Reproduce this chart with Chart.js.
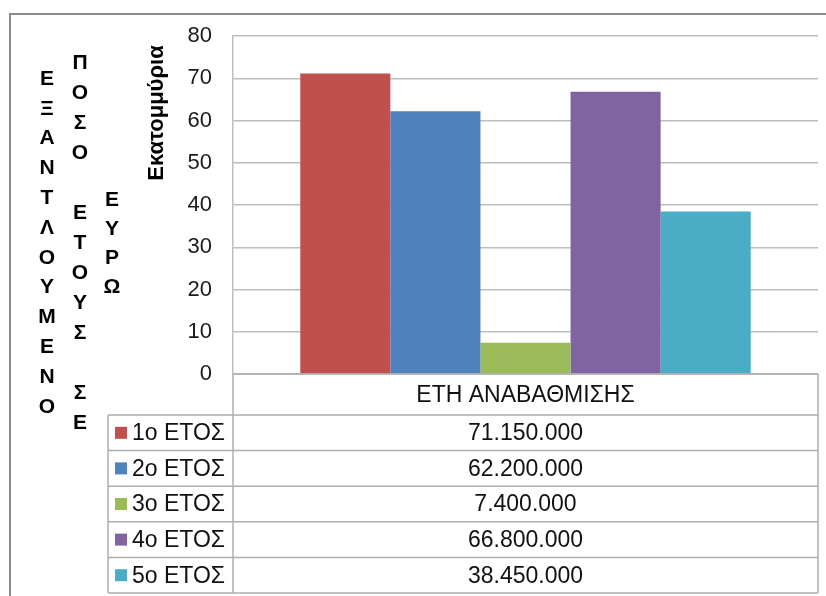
<!DOCTYPE html>
<html>
<head>
<meta charset="utf-8">
<script src="https://cdn.jsdelivr.net/npm/chart.js@4/dist/chart.umd.min.js"></script>
<style>
  body { margin: 0; background: #fff; }
  #wrap { width: 826px; height: 596px; }
</style>
</head>
<body>
<div id="wrap"><canvas id="myChart"></canvas></div>
<script>
const category = "ΕΤΗ ΑΝΑΒΑΘΜΙΣΗΣ";
const seriesNames = ["1o ΕΤΟΣ", "2o ΕΤΟΣ", "3o ΕΤΟΣ", "4o ΕΤΟΣ", "5o ΕΤΟΣ"];
const amounts = [71150000, 62200000, 7400000, 66800000, 38450000];
const colors = ["#C0504D", "#4F81BD", "#9BBB59", "#8064A2", "#4BACC6"];
const yMax = 80;
const yStep = 10;
const unitTitle = "Εκατομμύρια";
const sideTitle = ["ΕΞΑΝΤΛΟΥΜΕΝΟ", "ΠΟΣΟ ΕΤΟΥΣ ΣΕ", "ΕΥΡΩ"];

const FONT = "'Liberation Sans', Arial, sans-serif";
const LINE = "#adadad";

// 71150000 -> "71.150.000"
function formatAmount(v) {
  return String(v).replace(/\B(?=(\d{3})+(?!\d))/g, ".");
}

// frame, stacked side title, unit title and the data table under the plot
const extras = {
  id: "extras",
  afterDraw(chart) {
    const ctx = chart.ctx;
    const area = chart.chartArea;
    ctx.save();

    // outer frame (left + top only)
    ctx.strokeStyle = "#8c8c8c";
    ctx.lineWidth = 2;
    ctx.beginPath();
    ctx.moveTo(10, 596);
    ctx.lineTo(10, 14);
    ctx.lineTo(826, 14);
    ctx.stroke();

    // stacked letters, one column per word group
    ctx.fillStyle = "#000";
    ctx.font = "bold 21px " + FONT;
    ctx.textAlign = "center";
    ctx.textBaseline = "middle";
    const cols = [
      { x: 47, y: 79, step: 29.8 },
      { x: 80, y: 63, step: 30 },
      { x: 112, y: 200, step: 29 }
    ];
    sideTitle.forEach((word, i) => {
      const c = cols[i];
      [...word].forEach((ch, k) => {
        if (ch !== " ") ctx.fillText(ch, c.x, c.y + k * c.step);
      });
    });

    // unit title, rotated
    ctx.save();
    ctx.translate(157, 113);
    ctx.rotate(-Math.PI / 2);
    ctx.font = "bold 22px " + FONT;
    ctx.fillText(unitTitle, 0, 0);
    ctx.restore();

    // data table
    const tableLeft = area.left - 125;
    const headTop = area.bottom;
    const headBottom = area.bottom + 41;
    const rowH = 35.6;
    const tableBottom = headBottom + rowH * seriesNames.length;

    ctx.strokeStyle = LINE;
    ctx.lineWidth = 1.5;
    ctx.beginPath();
    ctx.moveTo(area.left, headTop);
    ctx.lineTo(area.right, headTop);
    for (let i = 0; i <= seriesNames.length; i++) {
      const y = headBottom + i * rowH;
      ctx.moveTo(tableLeft, y);
      ctx.lineTo(area.right, y);
    }
    ctx.moveTo(tableLeft, headBottom);
    ctx.lineTo(tableLeft, tableBottom);
    ctx.moveTo(area.left, headTop);
    ctx.lineTo(area.left, tableBottom);
    ctx.moveTo(area.right, headTop);
    ctx.lineTo(area.right, tableBottom);
    ctx.stroke();

    const midX = (area.left + area.right) / 2;
    ctx.font = "23px " + FONT;
    ctx.fillStyle = "#111";
    ctx.textAlign = "center";
    ctx.fillText(category, midX, (headTop + headBottom) / 2 + 1);

    seriesNames.forEach((name, i) => {
      const cy = headBottom + rowH * (i + 0.5) + 1;
      ctx.fillStyle = colors[i];
      ctx.fillRect(tableLeft + 7, cy - 7, 12, 12);
      ctx.fillStyle = "#111";
      ctx.textAlign = "left";
      ctx.fillText(name, tableLeft + 24, cy);
      ctx.textAlign = "center";
      ctx.fillText(formatAmount(amounts[i]), midX, cy);
    });

    ctx.restore();
  }
};

const data = {
  labels: [category],
  datasets: seriesNames.map((name, i) => ({
    label: name,
    data: [amounts[i] / 1e6],
    backgroundColor: colors[i],
    borderWidth: 0,
    categoryPercentage: 0.77,
    barPercentage: 1
  }))
};

const options = {
  responsive: true,
  maintainAspectRatio: false,
  animation: false,
  layout: { padding: { left: 0, top: 36, right: 8, bottom: 222 } },
  plugins: {
    legend: { display: false },
    tooltip: { enabled: false }
  },
  scales: {
    x: { display: false },
    y: {
      min: 0,
      max: yMax,
      afterFit: (scale) => { scale.width = 233; },
      ticks: {
        stepSize: yStep,
        padding: 21,
        color: "#1a1a1a",
        font: { family: FONT, size: 22 }
      },
      grid: { color: "#bdbdbd", lineWidth: 1.5, drawTicks: false },
      border: { display: true, color: "#bdbdbd", width: 1.5 }
    }
  }
};

new Chart(document.getElementById("myChart"), {
  type: "bar",
  data: data,
  options: options,
  plugins: [extras]
});
</script>
</body>
</html>
